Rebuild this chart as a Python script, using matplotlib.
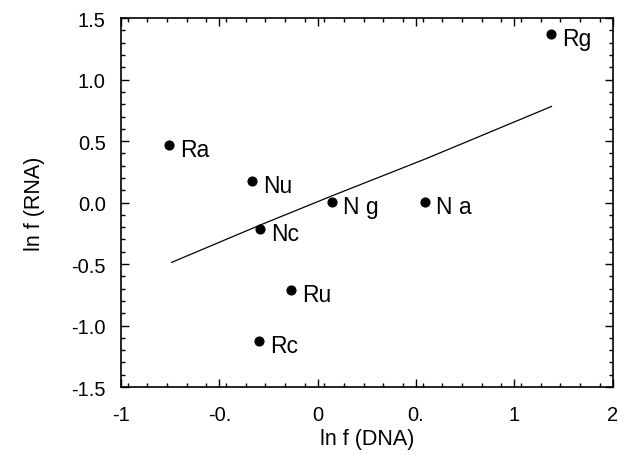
import matplotlib
matplotlib.use("Agg")
from matplotlib import pyplot as plt
from matplotlib.ticker import MultipleLocator

plt.rcParams['font.family'] = ['Liberation Sans', 'DejaVu Sans']

# points (ln f DNA, ln f RNA)
names = ["Rg", "Ra", "Nu", "N g", "N a", "Nc", "Ru", "Rc"]
x = [1.626, -0.705, -0.203, 0.289, 0.856, -0.151, 0.035, -0.161]
y = [1.37, 0.47, 0.177, 0.007, 0.007, -0.215, -0.709, -1.124]

# fitted curve
fit_x = [-0.691, -0.152, 0.287, 0.864, 1.626]
fit_y = [-0.486, -0.183, 0.055, 0.359, 0.782]

xtick_pos = [-1, -0.4, 0.2, 0.8, 1.4, 2]
xtick_lab = ["-1", "-0.", "0", "0.", "1", "2"]
ytick_pos = [-1.5, -1.0, -0.5, 0.0, 0.5, 1.0, 1.5]
ytick_lab = ["-1.5", "-1.0", "-0.5", "0.0", "0.5", "1.0", "1.5"]

fig = plt.figure(figsize=(6.19, 4.56), dpi=100)
ax = fig.add_axes([0.1955, 0.149, 0.7945, 0.809])

ax.plot(fit_x, fit_y, "k", lw=0.9)
ax.plot(x, y, "ko", ms=6.3)
for n, xi, yi in zip(names, x, y):
    ax.annotate(n, (xi, yi), xytext=(8, -8), textcoords="offset points",
                va="baseline", ha="left", fontsize=16.5)

ax.set_xlim(-1, 2)
ax.set_ylim(-1.5, 1.5)
ax.set_xticks(xtick_pos)
ax.set_xticklabels(xtick_lab)
ax.set_yticks(ytick_pos)
ax.set_yticklabels(ytick_lab)
ax.xaxis.set_minor_locator(MultipleLocator(0.12))
ax.yaxis.set_minor_locator(MultipleLocator(0.1))
ax.tick_params(which="both", direction="in", top=True, right=True, width=1)
ax.tick_params(which="major", length=6, labelsize=14.5)
ax.tick_params(which="minor", length=3)
ax.tick_params(axis="x", which="major", pad=13)
ax.tick_params(axis="y", which="major", pad=11)
for s in ax.spines.values():
    s.set_linewidth(1.2)

ax.set_xlabel("ln f (DNA)", fontsize=15.5, labelpad=3)
ax.set_ylabel("ln f (RNA)", fontsize=15.5, labelpad=19)

fig.savefig("out.png", dpi=100)
